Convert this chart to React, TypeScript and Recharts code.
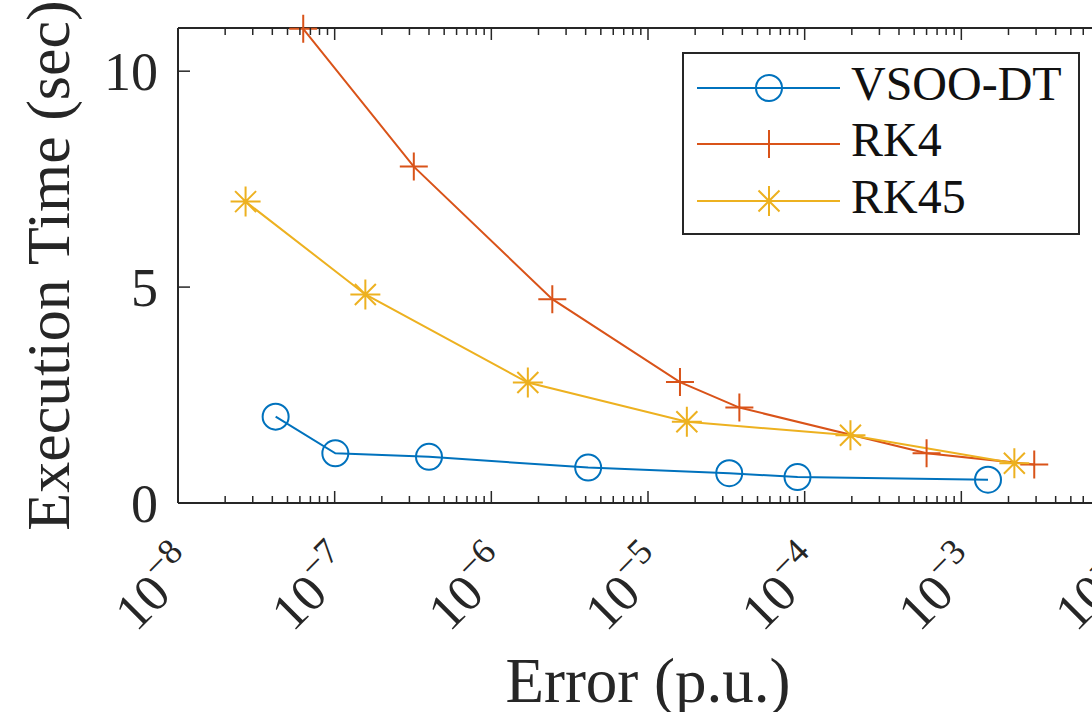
import { LineChart, Line, XAxis, YAxis, Legend, Label } from 'recharts';

// values
const vsooErr = [4.2e-8, 1.01e-7, 4.0e-7, 4.15e-6, 3.3e-5, 9.0e-5, 1.48e-3];
const vsooTime = [2.0, 1.15, 1.07, 0.82, 0.69, 0.6, 0.54];
const rk4Err = [6.3e-8, 3.2e-7, 2.45e-6, 1.6e-5, 3.83e-5, 6.0e-4, 2.92e-3];
const rk4Time = [10.98, 7.79, 4.72, 2.8, 2.21, 1.15, 0.89];
const rk45Err = [2.7e-8, 1.57e-7, 1.71e-6, 1.77e-5, 1.96e-4, 2.18e-3];
const rk45Time = [6.98, 4.83, 2.79, 1.88, 1.57, 0.92];

const seriesNames = ['VSOO-DT', 'RK4', 'RK45'];
const decadeExponents = [-8, -7, -6, -5, -4, -3, -2];
const yTicks = [0, 5, 10];

const COLORS = ['#0072BD', '#D95319', '#EDB120'];
const MARKERS = ['circle', 'plus', 'star'];
const AXIS = '#262626';
const FONT = '"Liberation Serif", "Times New Roman", serif';

const toRows = (xs: number[], ys: number[]) => xs.map((x, i) => ({ x, y: ys[i] }));

// major + minor ticks for the log axis
const xTicks: number[] = [];
decadeExponents.forEach((e, i) => {
  xTicks.push(Math.pow(10, e));
  if (i < decadeExponents.length - 1) {
    for (let m = 2; m <= 9; m++) xTicks.push(m * Math.pow(10, e));
  }
});

function isMajor(v: number) {
  const l = Math.log10(v);
  return Math.abs(l - Math.round(l)) < 1e-6;
}

function Marker({ kind, cx, cy, color }: { kind: string; cx: number; cy: number; color: string }) {
  if (cx == null || cy == null) return null;
  if (kind === 'circle') {
    return <circle cx={cx} cy={cy} r={13} fill="none" stroke={color} strokeWidth={2} />;
  }
  if (kind === 'plus') {
    const a = 14;
    return <path d={`M${cx - a},${cy}H${cx + a}M${cx},${cy - a}V${cy + a}`} stroke={color} strokeWidth={2} fill="none" />;
  }
  const a = 15;
  const d = 10.5;
  return (
    <path
      d={`M${cx - a},${cy}H${cx + a}M${cx},${cy - a}V${cy + a}M${cx - d},${cy - d}L${cx + d},${cy + d}M${cx - d},${cy + d}L${cx + d},${cy - d}`}
      stroke={color}
      strokeWidth={2}
      fill="none"
    />
  );
}

function BottomTick(props: any) {
  const { x, y, payload } = props;
  const v = payload.value;
  const major = isMajor(v);
  const len = major ? 12 : 7;
  const exp = Math.round(Math.log10(v));
  const ax = x + 22;
  const ay = y + 66;
  return (
    <g>
      <line x1={x} y1={y} x2={x} y2={y - len} stroke={AXIS} strokeWidth={1.5} />
      {major && (
        <text
          x={ax}
          y={ay}
          textAnchor="end"
          transform={`rotate(-45 ${ax} ${ay})`}
          fill={AXIS}
          fontFamily={FONT}
          fontSize={52}
        >
          10
          <tspan fontSize={36} dy={-22}>
            {`\u2212${Math.abs(exp)}`}
          </tspan>
        </text>
      )}
    </g>
  );
}

function TopTick(props: any) {
  const { x, y, payload } = props;
  const len = isMajor(payload.value) ? 12 : 7;
  return <line x1={x} y1={y} x2={x} y2={y + len} stroke={AXIS} strokeWidth={1.5} />;
}

function LeftTick(props: any) {
  const { x, y, payload } = props;
  return (
    <g>
      <line x1={x} y1={y} x2={x + 12} y2={y} stroke={AXIS} strokeWidth={1.5} />
      <text x={x - 20} y={y} dy="0.35em" textAnchor="end" fill={AXIS} fontFamily={FONT} fontSize={54}>
        {payload.value}
      </text>
    </g>
  );
}

function renderLegend() {
  const rows = [36, 92, 149];
  return (
    <svg width={398} height={183} style={{ display: 'block' }}>
      <rect x={1} y={1} width={396} height={181} fill="#fff" stroke={AXIS} strokeWidth={2} />
      {seriesNames.map((name, i) => (
        <g key={name}>
          <line x1={15} y1={rows[i]} x2={158} y2={rows[i]} stroke={COLORS[i]} strokeWidth={2} />
          <Marker kind={MARKERS[i]} cx={87} cy={rows[i]} color={COLORS[i]} />
          <text x={169} y={rows[i] + 12} fill="#111" fontFamily={FONT} fontSize={48}>
            {name}
          </text>
        </g>
      ))}
    </svg>
  );
}

const series = [toRows(vsooErr, vsooTime), toRows(rk4Err, rk4Time), toRows(rk45Err, rk45Time)];

export default function App() {
  return (
    <div style={{ position: 'fixed', left: 0, top: 0, width: 1092, height: 712, overflow: 'hidden', background: '#fff' }}>
      <LineChart width={1140} height={712} margin={{ top: 27, right: 22, bottom: 0, left: 0 }}>
        <XAxis
          xAxisId="bottom"
          dataKey="x"
          type="number"
          scale="log"
          domain={[1e-8, 1e-2]}
          allowDataOverflow
          ticks={xTicks}
          interval={0}
          height={209}
          tickSize={0}
          tickMargin={0}
          tickLine={false}
          axisLine={{ stroke: AXIS, strokeWidth: 2 }}
          tick={<BottomTick />}
        >
          <Label
            content={({ viewBox }: any) => (
              <text
                x={viewBox.x + viewBox.width / 2}
                y={702}
                textAnchor="middle"
                fill={AXIS}
                fontFamily={FONT}
                fontSize={63}
              >
                Error (p.u.)
              </text>
            )}
          />
        </XAxis>
        <XAxis
          xAxisId="top"
          orientation="top"
          dataKey="x"
          type="number"
          scale="log"
          domain={[1e-8, 1e-2]}
          allowDataOverflow
          ticks={xTicks}
          interval={0}
          height={1}
          tickSize={0}
          tickMargin={0}
          tickLine={false}
          axisLine={{ stroke: AXIS, strokeWidth: 2 }}
          tick={<TopTick />}
        />
        <YAxis
          type="number"
          domain={[0, 11]}
          ticks={yTicks}
          interval={0}
          width={178}
          tickSize={0}
          tickMargin={0}
          tickLine={false}
          axisLine={{ stroke: AXIS, strokeWidth: 2 }}
          tick={<LeftTick />}
        >
          <Label
            content={({ viewBox }: any) => {
              const cx = 69;
              const cy = viewBox.y + viewBox.height / 2;
              return (
                <text
                  x={cx}
                  y={cy}
                  textAnchor="middle"
                  transform={`rotate(-90 ${cx} ${cy})`}
                  fill={AXIS}
                  fontFamily={FONT}
                  fontSize={62}
                >
                  Execution Time (sec)
                </text>
              );
            }}
          />
        </YAxis>
        {series.map((rows, i) => (
          <Line
            key={seriesNames[i]}
            xAxisId="bottom"
            data={rows}
            dataKey="y"
            name={seriesNames[i]}
            type="linear"
            stroke={COLORS[i]}
            strokeWidth={2}
            isAnimationActive={false}
            dot={(p: any) => <Marker key={`${i}-${p.index}`} kind={MARKERS[i]} cx={p.cx} cy={p.cy} color={COLORS[i]} />}
            activeDot={false}
          />
        ))}
        <Legend
          layout="vertical"
          align="center"
          verticalAlign="middle"
          content={renderLegend}
          wrapperStyle={{ left: 682, top: 52, width: 398, height: 183 }}
        />
      </LineChart>
    </div>
  );
}
